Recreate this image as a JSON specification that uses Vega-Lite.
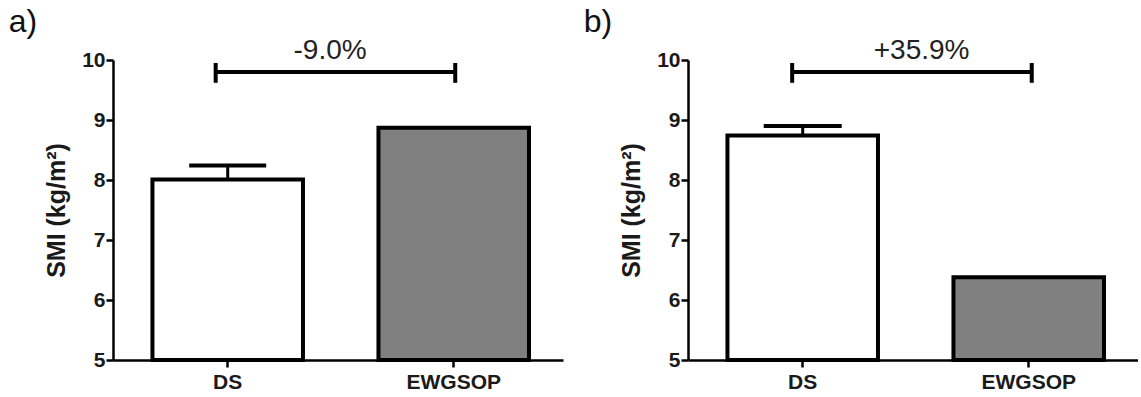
{
  "$schema": "https://vega.github.io/schema/vega-lite/v6.json",
  "padding": {"left": 8, "top": 5, "right": 0, "bottom": 0},
  "spacing": 20,
  "config": {
    "font": "Liberation Sans",
    "view": {"stroke": null},
    "axis": {
      "grid": false,
      "domainColor": "#000",
      "domainWidth": 2.5,
      "tickColor": "#000",
      "tickWidth": 2.5,
      "tickSize": 7,
      "labelColor": "#1a1a1a",
      "labelFont": "Liberation Sans",
      "labelFontWeight": "bold",
      "titleFont": "Liberation Sans",
      "titleFontWeight": "bold",
      "titleColor": "#1a1a1a"
    },
    "title": {"font": "Liberation Sans", "fontWeight": "normal", "color": "#111"}
  },
  "hconcat": [
    {
      "width": 450,
      "height": 300,
      "title": {"text": "a)", "anchor": "start", "frame": "bounds", "fontSize": 32, "dx": -36, "offset": -2},
      "layer": [
        {
          "data": {"values": [{"group": "DS", "smi": 8.01}, {"group": "EWGSOP", "smi": 8.87}]},
          "mark": {"type": "bar", "stroke": "#000", "strokeWidth": 4},
          "encoding": {
            "x": {"field": "group", "type": "nominal", "sort": null,
                  "scale": {"paddingInner": 0.334, "paddingOuter": 0.1625, "align": 0.537},
                  "axis": {"title": null, "labelAngle": 0, "labelFontSize": 21, "labelPadding": 4}},
            "y": {"field": "smi", "type": "quantitative",
                  "scale": {"domain": [5, 10], "zero": false, "nice": false},
                  "axis": {"title": "SMI (kg/m²)", "values": [5, 6, 7, 8, 9, 10], "format": "d", "labelFontSize": 21, "labelPadding": 1, "titleFontSize": 25, "titlePadding": 12}},
            "y2": {"datum": 5},
            "color": {"field": "group", "type": "nominal", "scale": {"domain": ["DS", "EWGSOP"], "range": ["#ffffff", "#808080"]}, "legend": null}
          }
        },
        {
          "data": {"values": [{"group": "DS", "lo": 8.01, "hi": 8.24}]},
          "mark": {"type": "rule", "strokeWidth": 3, "color": "#000"},
          "encoding": {
            "x": {"field": "group", "type": "nominal"},
            "y": {"field": "lo", "type": "quantitative"},
            "y2": {"field": "hi"}
          }
        },
        {
          "data": {"values": [{"group": "DS", "lo": 8.01, "hi": 8.24}]},
          "mark": {"type": "tick", "size": 77, "thickness": 4, "color": "#000", "opacity": 1},
          "encoding": {
            "x": {"field": "group", "type": "nominal"},
            "y": {"field": "hi", "type": "quantitative"}
          }
        },
        {
          "data": {"values": [{"from": "DS", "to": "EWGSOP", "y": 9.8, "lo": 9.62, "hi": 9.95}]},
          "mark": {"type": "rule", "strokeWidth": 4, "color": "#000"},
          "encoding": {
            "x": {"field": "from", "type": "nominal", "bandPosition": 0.42},
            "x2": {"field": "to", "bandPosition": 0.51},
            "y": {"field": "y", "type": "quantitative"}
          }
        },
        {
          "data": {"values": [{"from": "DS", "to": "EWGSOP", "y": 9.8, "lo": 9.62, "hi": 9.95}]},
          "mark": {"type": "rule", "strokeWidth": 4, "color": "#000"},
          "encoding": {
            "x": {"field": "from", "type": "nominal", "bandPosition": 0.42},
            "y": {"field": "lo", "type": "quantitative"},
            "y2": {"field": "hi"}
          }
        },
        {
          "data": {"values": [{"from": "DS", "to": "EWGSOP", "y": 9.8, "lo": 9.62, "hi": 9.95}]},
          "mark": {"type": "rule", "strokeWidth": 4, "color": "#000"},
          "encoding": {
            "x": {"field": "to", "type": "nominal", "bandPosition": 0.51},
            "y": {"field": "lo", "type": "quantitative"},
            "y2": {"field": "hi"}
          }
        },
        {
          "data": {"values": [{"group": "DS", "y": 10.15, "label": "-9.0%"}]},
          "mark": {"type": "text", "fontSize": 28, "color": "#222", "baseline": "middle", "align": "center"},
          "encoding": {
            "x": {"field": "group", "type": "nominal", "bandPosition": 1.18},
            "y": {"field": "y", "type": "quantitative"},
            "text": {"field": "label"}
          }
        }
      ]
    },
    {
      "width": 450,
      "height": 300,
      "title": {"text": "b)", "anchor": "start", "frame": "bounds", "fontSize": 32, "dx": -36, "offset": -2},
      "layer": [
        {
          "data": {"values": [{"group": "DS", "smi": 8.74}, {"group": "EWGSOP", "smi": 6.38}]},
          "mark": {"type": "bar", "stroke": "#000", "strokeWidth": 4},
          "encoding": {
            "x": {"field": "group", "type": "nominal", "sort": null,
                  "scale": {"paddingInner": 0.334, "paddingOuter": 0.1625, "align": 0.537},
                  "axis": {"title": null, "labelAngle": 0, "labelFontSize": 21, "labelPadding": 4}},
            "y": {"field": "smi", "type": "quantitative",
                  "scale": {"domain": [5, 10], "zero": false, "nice": false},
                  "axis": {"title": "SMI (kg/m²)", "values": [5, 6, 7, 8, 9, 10], "format": "d", "labelFontSize": 21, "labelPadding": 1, "titleFontSize": 25, "titlePadding": 12}},
            "y2": {"datum": 5},
            "color": {"field": "group", "type": "nominal", "scale": {"domain": ["DS", "EWGSOP"], "range": ["#ffffff", "#808080"]}, "legend": null}
          }
        },
        {
          "data": {"values": [{"group": "DS", "lo": 8.74, "hi": 8.9}]},
          "mark": {"type": "rule", "strokeWidth": 3, "color": "#000"},
          "encoding": {
            "x": {"field": "group", "type": "nominal"},
            "y": {"field": "lo", "type": "quantitative"},
            "y2": {"field": "hi"}
          }
        },
        {
          "data": {"values": [{"group": "DS", "lo": 8.74, "hi": 8.9}]},
          "mark": {"type": "tick", "size": 78, "thickness": 4, "color": "#000", "opacity": 1},
          "encoding": {
            "x": {"field": "group", "type": "nominal"},
            "y": {"field": "hi", "type": "quantitative"}
          }
        },
        {
          "data": {"values": [{"from": "DS", "to": "EWGSOP", "y": 9.8, "lo": 9.62, "hi": 9.95}]},
          "mark": {"type": "rule", "strokeWidth": 4, "color": "#000"},
          "encoding": {
            "x": {"field": "from", "type": "nominal", "bandPosition": 0.43},
            "x2": {"field": "to", "bandPosition": 0.52},
            "y": {"field": "y", "type": "quantitative"}
          }
        },
        {
          "data": {"values": [{"from": "DS", "to": "EWGSOP", "y": 9.8, "lo": 9.62, "hi": 9.95}]},
          "mark": {"type": "rule", "strokeWidth": 4, "color": "#000"},
          "encoding": {
            "x": {"field": "from", "type": "nominal", "bandPosition": 0.43},
            "y": {"field": "lo", "type": "quantitative"},
            "y2": {"field": "hi"}
          }
        },
        {
          "data": {"values": [{"from": "DS", "to": "EWGSOP", "y": 9.8, "lo": 9.62, "hi": 9.95}]},
          "mark": {"type": "rule", "strokeWidth": 4, "color": "#000"},
          "encoding": {
            "x": {"field": "to", "type": "nominal", "bandPosition": 0.52},
            "y": {"field": "lo", "type": "quantitative"},
            "y2": {"field": "hi"}
          }
        },
        {
          "data": {"values": [{"group": "DS", "y": 10.15, "label": "+35.9%"}]},
          "mark": {"type": "text", "fontSize": 28, "color": "#222", "baseline": "middle", "align": "center"},
          "encoding": {
            "x": {"field": "group", "type": "nominal", "bandPosition": 1.29},
            "y": {"field": "y", "type": "quantitative"},
            "text": {"field": "label"}
          }
        }
      ]
    }
  ]
}
